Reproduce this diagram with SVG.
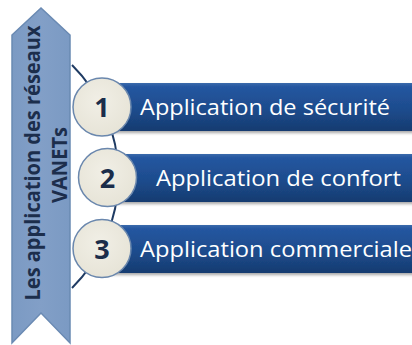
<svg xmlns="http://www.w3.org/2000/svg" width="412" height="345" viewBox="0 0 412 345">
  <defs>
    <linearGradient id="barFill" x1="0" y1="0" x2="0" y2="1">
      <stop offset="0" stop-color="#3a6aab"/>
      <stop offset="0.08" stop-color="#2556a0"/>
      <stop offset="0.55" stop-color="#1d4c8d"/>
      <stop offset="1" stop-color="#163b70"/>
    </linearGradient>
    <radialGradient id="circleFill" cx="0.45" cy="0.4" r="0.65">
      <stop offset="0" stop-color="#f1efe6"/>
      <stop offset="1" stop-color="#e6e3d6"/>
    </radialGradient>
    <linearGradient id="bannerFill" x1="0" y1="0" x2="1" y2="0">
      <stop offset="0" stop-color="#7b9ac3"/>
      <stop offset="0.5" stop-color="#829fc7"/>
      <stop offset="1" stop-color="#7b9ac3"/>
    </linearGradient>
    <filter id="softShadow" x="-10%" y="-20%" width="120%" height="160%">
      <feGaussianBlur in="SourceAlpha" stdDeviation="1.5"/>
      <feOffset dx="0" dy="2" result="b"/>
      <feComponentTransfer><feFuncA type="linear" slope="0.35"/></feComponentTransfer>
      <feMerge><feMergeNode/><feMergeNode in="SourceGraphic"/></feMerge>
    </filter>
  </defs>
  <style>
    .bar { fill: url(#barFill); filter: url(#softShadow); }
    .barText { font-family: "Open Sans", "Noto Sans", sans-serif; font-size: 22.5px; fill: #ffffff; }
    .badge { fill: url(#circleFill); stroke: #6a87ad; stroke-width: 1.5; }
    .num { font-family: "Open Sans", "Noto Sans", sans-serif; font-weight: bold; font-size: 27px; fill: #1b2d4a; text-anchor: middle; }
    .bannerText { font-family: "Open Sans", "Noto Sans", sans-serif; font-weight: bold; font-size: 20.5px; fill: #1c2e4c; text-anchor: middle; }
    .link { fill: none; stroke: #1f3b63; stroke-width: 2; }
  </style>

  <rect width="412" height="345" fill="#ffffff"/>

  <!-- vertical title banner -->
  <g id="title">
    <polygon points="12,35 41,8 70,35 70,343 41,313 12,343" fill="url(#bannerFill)" stroke="#6a8ab3" stroke-width="1.5"/>
    <text class="bannerText" transform="translate(40,163) rotate(-90)" textLength="275" lengthAdjust="spacingAndGlyphs">Les application des réseaux</text>
    <text class="bannerText" transform="translate(66.5,165) rotate(-90)" textLength="76" lengthAdjust="spacingAndGlyphs">VANETs</text>
  </g>

  <!-- curved spine -->
  <g id="connectors">
    <path class="link" d="M 72 65 A 157.3 157.3 0 0 1 72 288"/>
  </g>

  <g id="item1">
    <rect class="bar" x="100" y="83" width="320" height="48"/>
    <text class="barText" x="140" y="115" textLength="250" lengthAdjust="spacingAndGlyphs">Application de sécurité</text>
    <circle class="badge" cx="102" cy="107" r="29"/>
    <text class="num" x="102" y="117">1</text>
  </g>

  <g id="item2">
    <rect class="bar" x="105" y="154" width="315" height="48"/>
    <text class="barText" x="156" y="186" textLength="245" lengthAdjust="spacingAndGlyphs">Application de confort</text>
    <circle class="badge" cx="107.5" cy="177.5" r="29"/>
    <text class="num" x="107.5" y="187.5">2</text>
  </g>

  <g id="item3">
    <rect class="bar" x="100" y="225" width="320" height="48"/>
    <text class="barText" x="140" y="257" textLength="272" lengthAdjust="spacingAndGlyphs">Application commerciale</text>
    <circle class="badge" cx="102" cy="248.5" r="29"/>
    <text class="num" x="102" y="258.5">3</text>
  </g>
</svg>
